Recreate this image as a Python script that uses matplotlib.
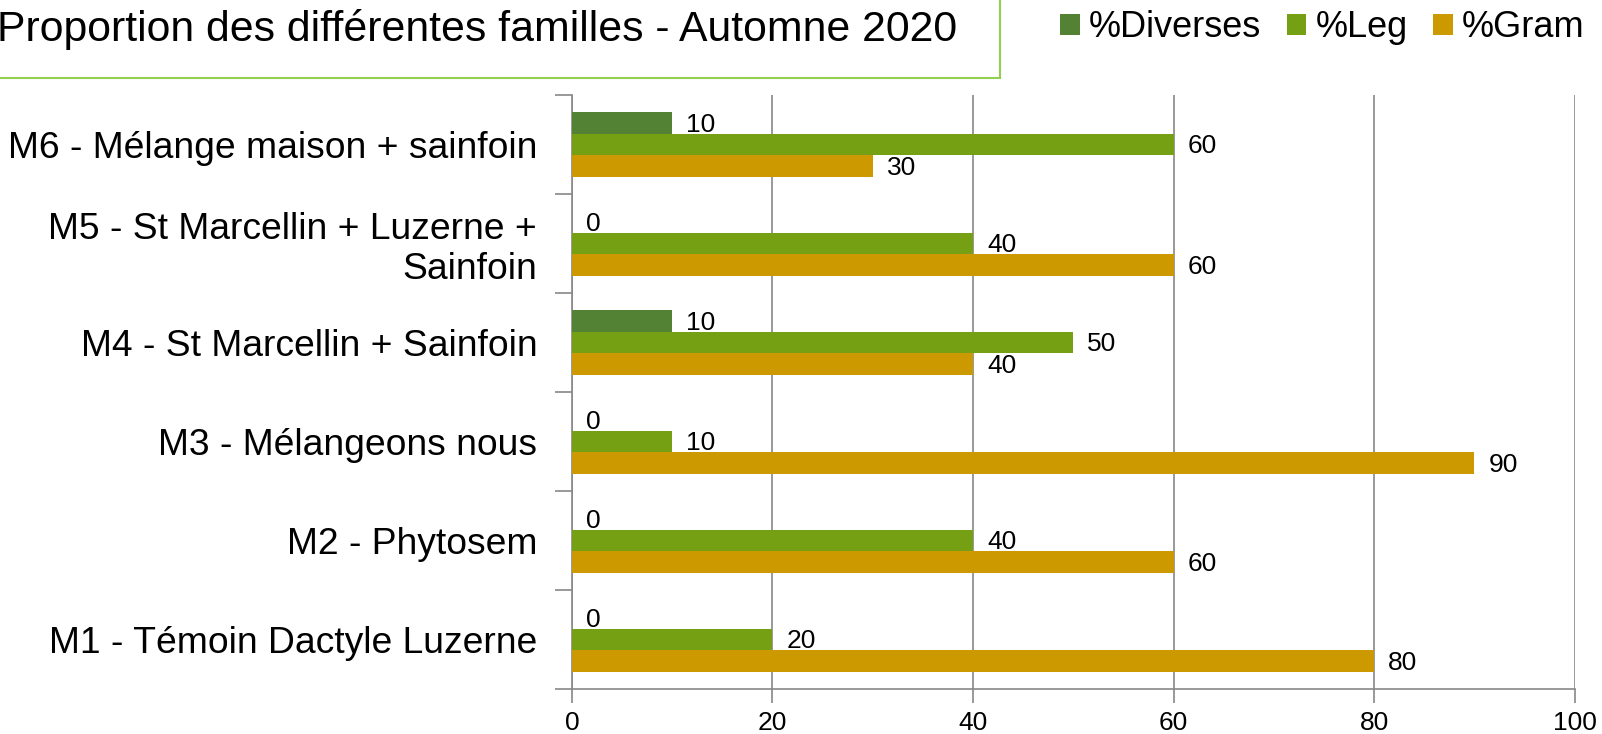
import matplotlib
matplotlib.use('Agg')
import matplotlib.pyplot as plt
from matplotlib.patches import Rectangle
from matplotlib.ticker import MultipleLocator, FixedLocator
import numpy as np

plt.rcParams['font.family'] = ['Liberation Sans', 'DejaVu Sans']

# data
categories = ['M1 - Témoin Dactyle Luzerne', 'M2 - Phytosem', 'M3 - Mélangeons nous',
              'M4 - St Marcellin + Sainfoin', 'M5 - St Marcellin + Luzerne +\nSainfoin',
              'M6 - Mélange maison + sainfoin']
diverses = [0, 0, 0, 10, 0, 10]
leg = [20, 40, 10, 50, 40, 60]
gram = [80, 60, 90, 40, 60, 30]
series_names = ['%Diverses', '%Leg', '%Gram']
colors = ['#548235', '#76A013', '#CC9900']
title = 'Proportion des différentes familles - Automne 2020'

fig = plt.figure(figsize=(16.02, 7.34), dpi=100)
ax = fig.add_axes([0.357, 0.0613, 0.626, 0.8093])

y = np.arange(len(categories))
h = 0.216
offsets = [h, 0, -h]
for vals, off, col, name in zip([diverses, leg, gram], offsets, colors, series_names):
    bars = ax.barh(y + off, vals, height=h, color=col, label=name, zorder=3)
    for b, v in zip(bars, vals):
        ax.text(v + 1.4, b.get_y() + b.get_height() / 2 - 0.02, str(v),
                va='center', ha='left', fontsize=19, color='black', zorder=4)

ax.set_xlim(0, 100)
ax.set_ylim(-0.5, len(categories) - 0.5)
ax.xaxis.set_major_locator(MultipleLocator(20))
ax.set_yticks(y)
ax.set_yticklabels(categories, fontsize=26.8, ha='right', linespacing=1.15)
ax.yaxis.set_minor_locator(FixedLocator(np.arange(-0.5, len(categories), 1)))
ax.tick_params(axis='y', which='major', length=0, pad=25)
ax.tick_params(axis='y', which='minor', length=12, color='#888888', width=1.2)
ax.tick_params(axis='x', which='major', length=10, color='#888888', width=1.2,
               labelsize=19, pad=6)
ax.grid(axis='x', color='#888888', linewidth=1.2, zorder=0)
for s in ['top', 'right']:
    ax.spines[s].set_visible(False)
for s in ['left', 'bottom']:
    ax.spines[s].set_color('#888888')
    ax.spines[s].set_linewidth(1.2)

# title box
fig.patches.append(Rectangle((-0.01, 0.894), 0.634, 0.2, transform=fig.transFigure,
                             facecolor='white', edgecolor='#92D050', linewidth=1.5))
fig.text(-0.002, 0.96, title, fontsize=30.8, ha='left', va='center')

handles, labels = ax.get_legend_handles_labels()
fig.legend(handles, labels, loc='center right', bbox_to_anchor=(0.998, 0.962), ncol=3,
           frameon=False, fontsize=26, handlelength=0.55, handleheight=0.55,
           handletextpad=0.25, columnspacing=0.7, borderaxespad=0.0)

fig.savefig('out.png', dpi=100)
